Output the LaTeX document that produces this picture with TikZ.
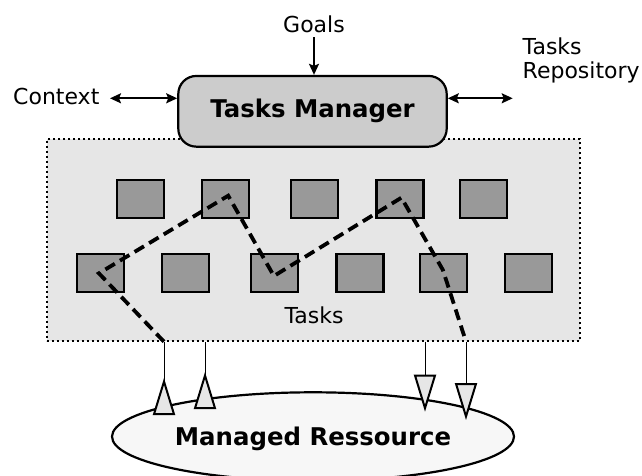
\documentclass[tikz,border=0pt]{standalone}
\usepackage{fontspec}
\setmainfont{DejaVu Sans}
\usetikzlibrary{arrows.meta,shapes.geometric,calc}
\definecolor{boxgray}{HTML}{CCCCCC}
\definecolor{areagray}{HTML}{E6E6E6}
\definecolor{taskgray}{HTML}{999999}
\definecolor{resgray}{HTML}{F7F7F7}
\tikzset{
  lbl/.style={font=\fontsize{22}{26}\selectfont, inner sep=0pt},
  bigbold/.style={font=\fontsize{24.4}{28}\selectfont\bfseries},
  taskbox/.style={draw=black, line width=2.2pt, fill=taskgray, minimum width=47pt, minimum height=38pt, inner sep=0pt},
  dblarrow/.style={line width=1.8pt, {Stealth[length=11pt,width=10pt,inset=2pt]}-{Stealth[length=11pt,width=10pt,inset=2pt]}},
  inarrow/.style={line width=1.8pt, -{Stealth[length=11pt,width=10pt,inset=2pt]}},
  flowpath/.style={line width=3.8pt, dash pattern=on 11pt off 6pt},
  upline/.style={line width=1pt, {Triangle[reversed,open,length=37pt,width=22pt,line width=2pt,fill=areagray]}-},
  downline/.style={line width=1pt, -{Triangle[open,length=37pt,width=22pt,line width=2pt,fill=areagray]}},
}
\begin{document}
\begin{tikzpicture}[x=1pt,y=-1pt]
\useasboundingbox (0,0) rectangle (642,476);
% tasks area
\node[draw=black, line width=2pt, dash pattern=on 2pt off 3pt, fill=areagray,
      minimum width=533.6pt, minimum height=201.4pt, inner sep=0pt] (tasks) at (313.5,240) {};
\node[lbl] (taskslbl) at (314,315) {Tasks};
% manager
\node[draw=black, line width=2.2pt, fill=boxgray, rounded corners=18pt,
      minimum width=268.4pt, minimum height=70.7pt, inner sep=0pt, bigbold] (mgr) at (312.5,111.3) {Tasks Manager};
% labels
\node[lbl, anchor=base] (goals) at (314,32.3) {Goals};
\node[lbl, anchor=base west] (context) at (13,105) {Context};
\node[lbl, anchor=base west, align=left] (repo) at (522.5,79) {Tasks\\[-1.5pt]Repository};
\coordinate (goalsend) at (314,37.3);
\coordinate (ctxend) at (110,98.3);
\coordinate (repoend) at (512.7,98.3);
\draw[inarrow] (goalsend) -- (goalsend |- mgr.north);
\draw[dblarrow] (ctxend) -- (ctxend -| mgr.west);
\draw[dblarrow] (repoend -| mgr.east) -- (repoend);
% task squares
\foreach \n/\x in {1/140.3,2/225.3,3/314.5,4/399.9,5/483.5}
  \node[taskbox] (t\n) at (\x,199.3) {};
\foreach \n/\x in {1/100.3,2/185.5,3/274.5,4/359.9,5/443.1,6/528.5}
  \node[taskbox] (b\n) at (\x,273.3) {};
% resource
\node[draw=black, line width=2.2pt, fill=resgray, ellipse, minimum width=402pt, minimum height=88.6pt,
      inner sep=0pt, bigbold, text height=17.8pt, text depth=0pt] (res) at (313,436.6) {Managed Ressource};
% connectors between tasks and resource
\coordinate (u1) at (164,415);
\coordinate (u2) at (205,409);
\coordinate (d1) at (425,411.7);
\coordinate (d2) at (466,420);
\draw[upline] (u1) -- (u1 |- tasks.south);
\draw[upline] (u2) -- (u2 |- tasks.south);
\draw[downline] (d1 |- tasks.south) -- (d1);
\draw[downline] (d2 |- tasks.south) -- (d2);
% execution path
\draw[flowpath] (u1 |- tasks.south)
  -- ([shift={(-1.4,0)}]b1.center)
  -- ([shift={(2.9,-3.6)}]t2.center)
  -- ([shift={(-0.6,2.7)}]b3.center)
  -- ([shift={(1.5,-1.6)}]t4.center)
  -- ([shift={(-0.2,-3.3)}]b5.center)
  -- (d2 |- tasks.south);
\end{tikzpicture}
\end{document}
